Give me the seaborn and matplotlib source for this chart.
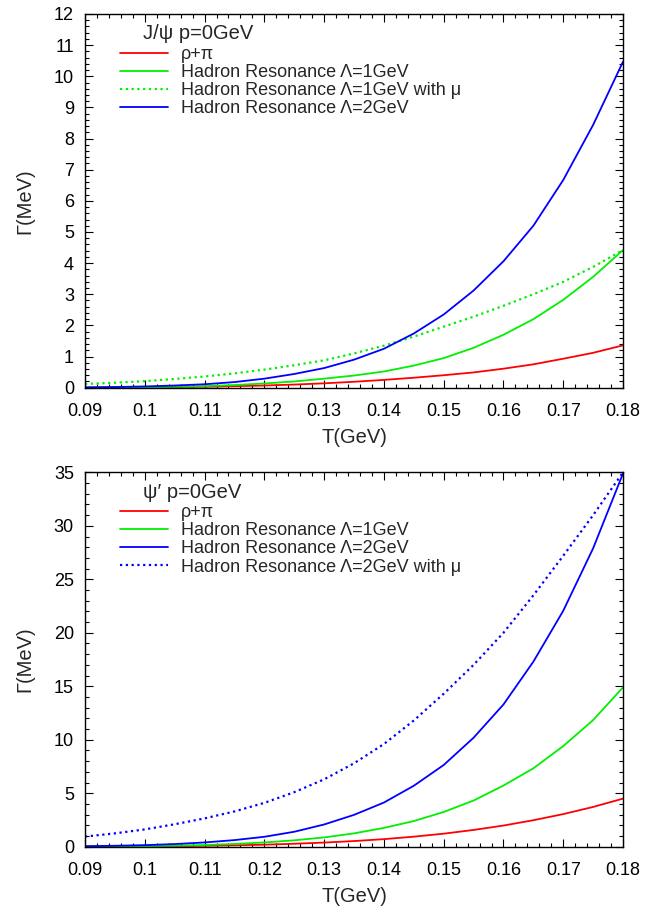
import numpy as np
import matplotlib
matplotlib.use('Agg')
import matplotlib.pyplot as plt
import seaborn as sns
from matplotlib.ticker import MultipleLocator, AutoMinorLocator, FuncFormatter

# temperature grid (GeV)
T = [0.09, 0.095, 0.10, 0.105, 0.11, 0.115, 0.12, 0.125, 0.13, 0.135,
     0.14, 0.145, 0.15, 0.155, 0.16, 0.165, 0.17, 0.175, 0.18]

# J/psi widths (MeV)
jpsi_rho_pi = [0.005, 0.008, 0.013, 0.02, 0.03, 0.048, 0.07, 0.10, 0.14, 0.19,
               0.25, 0.32, 0.40, 0.49, 0.61, 0.75, 0.93, 1.12, 1.36]
jpsi_hr1 = [0.005, 0.01, 0.018, 0.03, 0.05, 0.085, 0.135, 0.20, 0.29, 0.39,
            0.52, 0.71, 0.95, 1.28, 1.70, 2.20, 2.82, 3.56, 4.42]
jpsi_hr1_mu = [0.12, 0.16, 0.21, 0.28, 0.36, 0.46, 0.58, 0.72, 0.88, 1.10,
               1.35, 1.64, 1.96, 2.28, 2.63, 3.00, 3.40, 3.88, 4.42]
jpsi_hr2 = [0.01, 0.02, 0.04, 0.07, 0.11, 0.18, 0.29, 0.44, 0.63, 0.90,
            1.25, 1.74, 2.35, 3.12, 4.06, 5.20, 6.67, 8.44, 10.47]

# psi' widths (MeV)
psip_rho_pi = [0.01, 0.02, 0.035, 0.055, 0.085, 0.13, 0.19, 0.28, 0.39, 0.53,
               0.71, 0.94, 1.22, 1.57, 1.98, 2.48, 3.05, 3.72, 4.50]
psip_hr1 = [0.02, 0.035, 0.06, 0.10, 0.16, 0.26, 0.40, 0.60, 0.87, 1.25,
            1.76, 2.40, 3.25, 4.32, 5.72, 7.33, 9.41, 11.84, 14.9]
psip_hr2 = [0.05, 0.09, 0.15, 0.25, 0.40, 0.62, 0.93, 1.40, 2.08, 2.98,
            4.13, 5.70, 7.64, 10.19, 13.3, 17.3, 22.06, 27.9, 34.9]
psip_hr2_mu = [0.95, 1.25, 1.62, 2.10, 2.65, 3.30, 4.10, 5.10, 6.30, 7.80,
               9.60, 11.8, 14.3, 17.0, 20.0, 23.5, 27.2, 31.0, 35.0]

sns.set_style('ticks')
plt.rcParams['font.family'] = ['Liberation Sans', 'DejaVu Sans']
plt.rcParams['xtick.direction'] = 'in'
plt.rcParams['ytick.direction'] = 'in'

RED, GREEN, BLUE = '#ff0000', '#00f000', '#0000ff'
DOT = (0, (1, 1.6))

fig = plt.figure(figsize=(6.55, 9.09), dpi=100)
ax1 = fig.add_axes([0.1298, 0.5735, 0.8214, 0.4111])
ax2 = fig.add_axes([0.1298, 0.0685, 0.8214, 0.4119])

lw = 1.3
sns.lineplot(x=T, y=jpsi_rho_pi, ax=ax1, color=RED, lw=lw, label='ρ+π')
sns.lineplot(x=T, y=jpsi_hr1, ax=ax1, color=GREEN, lw=lw,
             label='Hadron Resonance Λ=1GeV')
sns.lineplot(x=T, y=jpsi_hr1_mu, ax=ax1, color=GREEN, lw=1.6, linestyle=DOT,
             label='Hadron Resonance Λ=1GeV with μ')
sns.lineplot(x=T, y=jpsi_hr2, ax=ax1, color=BLUE, lw=lw,
             label='Hadron Resonance Λ=2GeV')

sns.lineplot(x=T, y=psip_rho_pi, ax=ax2, color=RED, lw=lw, label='ρ+π')
sns.lineplot(x=T, y=psip_hr1, ax=ax2, color=GREEN, lw=lw,
             label='Hadron Resonance Λ=1GeV')
sns.lineplot(x=T, y=psip_hr2, ax=ax2, color=BLUE, lw=lw,
             label='Hadron Resonance Λ=2GeV')
sns.lineplot(x=T, y=psip_hr2_mu, ax=ax2, color=BLUE, lw=1.6, linestyle=DOT,
             label='Hadron Resonance Λ=2GeV with μ')

for ax, ymax, ystep, yminor, title in [(ax1, 12, 1, 5, 'J/ψ p=0GeV'),
                                        (ax2, 35, 5, 5, 'ψ′ p=0GeV')]:
    ax.set_xlim(0.09, 0.18)
    ax.set_ylim(0, ymax)
    ax.xaxis.set_major_locator(MultipleLocator(0.01))
    ax.xaxis.set_minor_locator(AutoMinorLocator(5))
    ax.yaxis.set_major_locator(MultipleLocator(ystep))
    ax.yaxis.set_minor_locator(AutoMinorLocator(yminor))
    ax.xaxis.set_major_formatter(FuncFormatter(lambda v, p: '%g' % round(v, 3)))
    ax.tick_params(which='both', top=True, right=True, labelsize=13,
                   width=0.8, colors='black')
    ax.tick_params(axis='y', pad=8)
    ax.tick_params(axis='x', pad=11)
    ax.tick_params(which='major', length=6)
    ax.tick_params(which='minor', length=3)
    for s in ax.spines.values():
        s.set_linewidth(1.0)
        s.set_color('black')
    ax.set_xlabel('T(GeV)', fontsize=14.5, labelpad=6)
    ax.set_ylabel('Γ(MeV)', fontsize=14.5, labelpad=14)
    ax.text(0.108, 0.947, title, transform=ax.transAxes, fontsize=14.5,
            va='center', ha='left')
    ax.legend(loc='upper left', bbox_to_anchor=(0.051, 0.934), frameon=False,
              fontsize=13, handlelength=2.67, handletextpad=0.7,
              labelspacing=0.06, borderaxespad=0)

fig.savefig('out.png', dpi=100)
